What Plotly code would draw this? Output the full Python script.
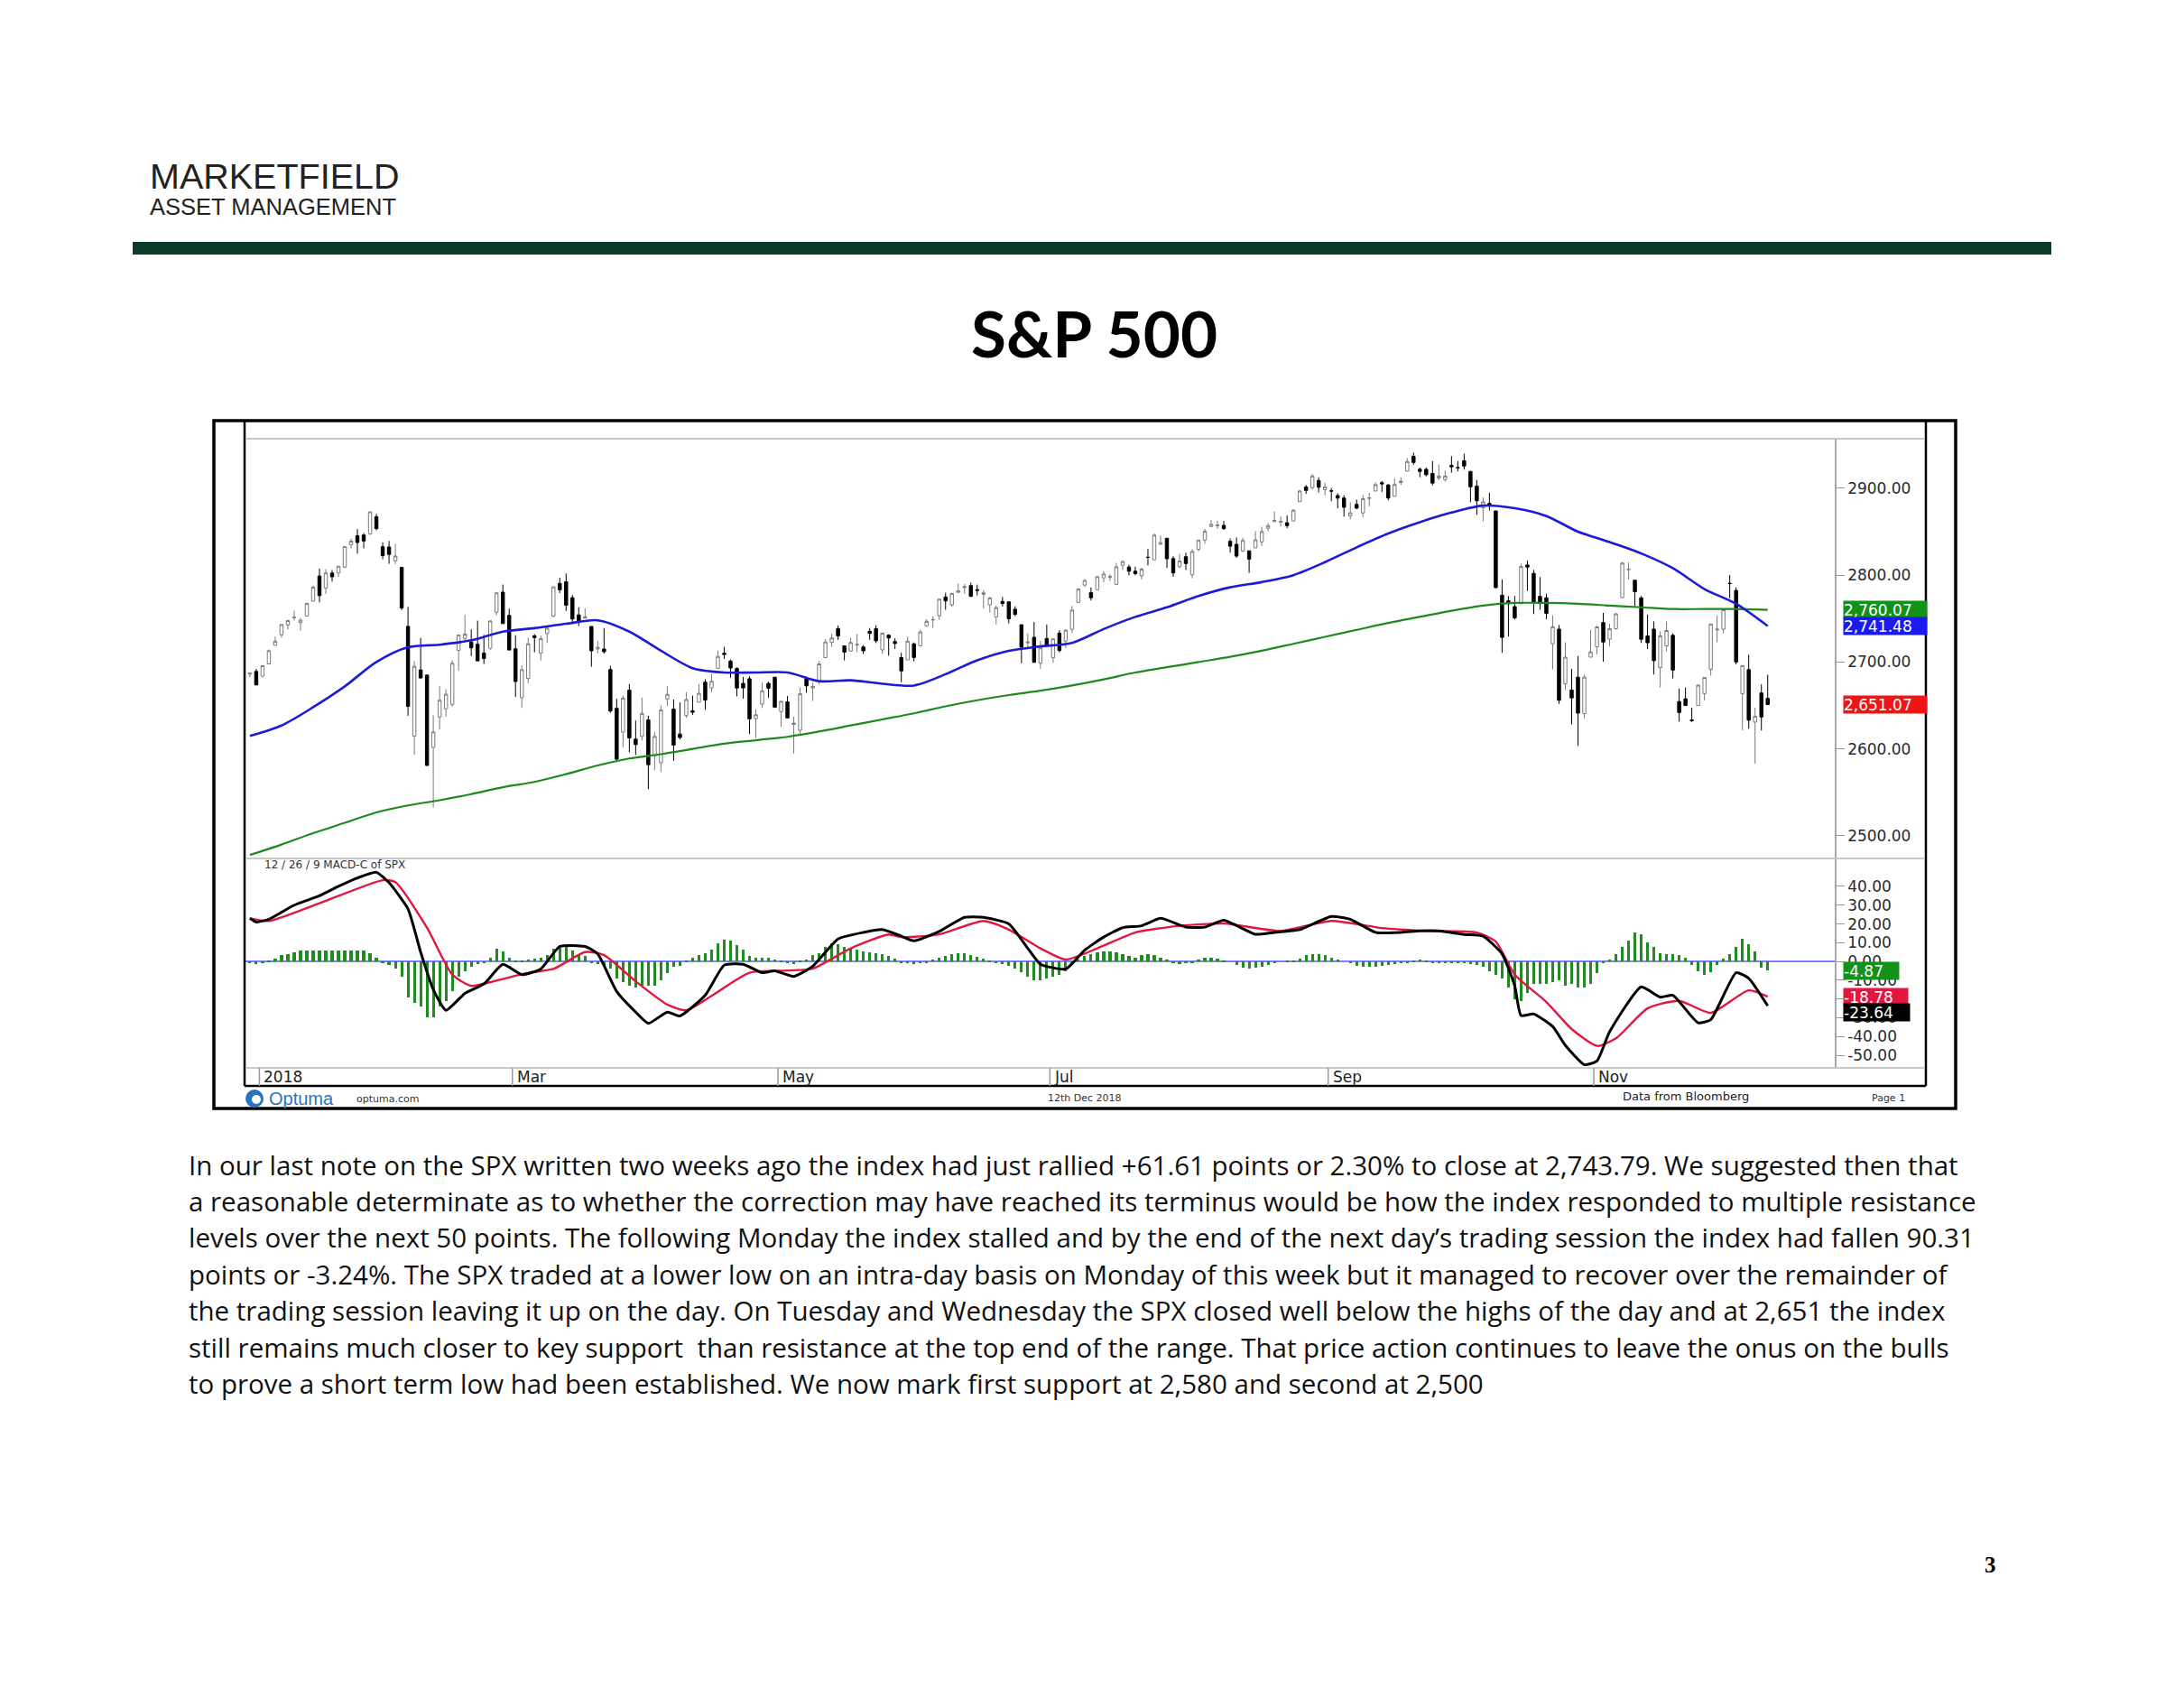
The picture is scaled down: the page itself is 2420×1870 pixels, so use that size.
import plotly.graph_objects as go
import pandas as pd

W, H = 2420, 1870
def px(x): return x / W
def py(y): return 1 - y / H

# ---------------- trading calendar (categories) ----------------
holidays = ["2018-01-01", "2018-01-15", "2018-02-19", "2018-03-30", "2018-05-28",
            "2018-07-04", "2018-09-03", "2018-11-22", "2018-12-05"]
dates = [d.strftime("%Y-%m-%d") for d in pd.bdate_range("2017-12-28", "2018-12-12")
         if d.strftime("%Y-%m-%d") not in holidays]

# ---------------- SPX daily OHLC ----------------
opens = [2686.10, 2689.15,
 2683.73, 2697.85, 2719.31, 2731.33, 2742.67, 2751.15, 2745.55, 2752.97, 2770.18, 2798.96, 2784.99, 2802.40, 2802.60, 2809.16, 2835.05, 2845.42, 2846.24, 2847.48, 2867.23, 2832.74, 2832.41,
 2816.45, 2808.92, 2741.06, 2614.78, 2690.95, 2685.01, 2601.78, 2636.75, 2646.27, 2651.21, 2713.46, 2727.14, 2722.99, 2720.53, 2710.42, 2715.80, 2757.37, 2780.45, 2753.78,
 2715.22, 2658.89, 2681.06, 2730.18, 2710.18, 2732.75, 2752.91, 2790.54, 2792.31, 2774.06, 2754.27, 2750.57, 2740.95, 2715.05, 2714.99, 2691.36, 2646.71, 2619.35, 2667.57, 2611.30, 2614.41,
 2633.45, 2592.17, 2584.04, 2657.36, 2645.82, 2617.18, 2638.41, 2643.89, 2653.83, 2676.90, 2670.10, 2692.74, 2710.11, 2701.16, 2692.56, 2675.40, 2680.80, 2634.92, 2651.65, 2675.47, 2682.51,
 2642.96, 2654.24, 2628.08, 2621.45, 2680.34, 2670.26, 2678.12, 2705.02, 2722.70, 2738.47, 2718.59, 2712.62, 2719.71, 2717.35, 2735.39, 2738.34, 2713.98, 2730.94, 2723.60, 2705.11, 2702.43, 2720.98,
 2718.70, 2741.67, 2748.46, 2753.25, 2774.84, 2765.84, 2780.18, 2785.60, 2787.94, 2783.21, 2777.78, 2765.79, 2752.01, 2769.73, 2769.28, 2760.79, 2742.94, 2722.12, 2728.45, 2698.69, 2727.13,
 2704.95, 2733.27, 2724.19, 2737.68, 2768.51, 2788.56, 2779.82, 2783.14, 2796.93, 2797.36, 2789.34, 2811.35, 2809.37, 2804.55, 2799.17, 2820.68, 2817.73, 2835.49, 2842.35, 2819.00, 2809.73,
 2821.17, 2800.48, 2829.62, 2840.29, 2855.92, 2856.79, 2857.19, 2838.90, 2835.46, 2827.88, 2827.95, 2831.44, 2838.32, 2853.93, 2861.51, 2860.99, 2860.29, 2862.35, 2884.69, 2901.45, 2900.62, 2908.94, 2898.37,
 2896.96, 2891.59, 2888.64, 2868.26, 2881.39, 2871.57, 2888.29, 2896.85, 2906.38, 2903.83, 2890.74, 2906.60, 2919.73, 2936.76, 2921.83, 2921.75, 2916.98, 2911.65, 2910.03,
 2926.29, 2923.80, 2931.69, 2919.35, 2902.54, 2877.53, 2882.51, 2873.90, 2776.87, 2770.54, 2763.83, 2767.05, 2811.67, 2802.00, 2775.66, 2773.94, 2721.03, 2737.87, 2674.88, 2667.86, 2682.65, 2640.68, 2705.60,
 2717.58, 2745.45, 2726.37, 2738.40, 2774.13, 2806.38, 2794.10, 2773.93, 2730.05, 2737.90, 2693.52, 2718.54, 2730.74, 2654.60, 2657.74, 2633.36, 2649.97, 2663.75, 2691.45, 2736.97, 2737.76,
 2790.50, 2782.43, 2663.51, 2691.26, 2630.86, 2664.44, 2658.23]
highs = [2687.66, 2692.12,
 2695.89, 2714.37, 2729.29, 2743.45, 2748.51, 2759.14, 2750.80, 2767.56, 2787.85, 2807.54, 2807.04, 2805.83, 2810.33, 2833.03, 2842.24, 2852.97, 2848.56, 2872.87, 2870.62, 2837.75, 2839.26,
 2835.96, 2808.92, 2763.39, 2701.04, 2727.67, 2685.27, 2638.67, 2672.61, 2668.84, 2702.10, 2731.51, 2754.42, 2737.60, 2747.75, 2731.26, 2747.76, 2780.64, 2789.15, 2761.52,
 2730.89, 2696.25, 2728.09, 2732.08, 2730.60, 2740.45, 2786.57, 2796.98, 2801.90, 2777.11, 2763.03, 2761.85, 2741.09, 2724.22, 2739.14, 2695.68, 2657.67, 2661.36, 2674.78, 2632.65, 2659.07,
 2638.30, 2619.14, 2649.86, 2672.08, 2656.88, 2653.55, 2665.45, 2661.43, 2674.72, 2680.26, 2686.49, 2713.34, 2717.49, 2702.84, 2693.94, 2682.86, 2683.55, 2645.30, 2676.48, 2677.35, 2682.87,
 2655.27, 2660.87, 2637.14, 2670.93, 2683.35, 2676.34, 2701.27, 2726.11, 2732.86, 2742.10, 2718.59, 2727.76, 2731.96, 2719.50, 2739.19, 2742.24, 2733.33, 2731.97, 2727.36, 2710.67, 2729.34, 2722.50,
 2736.93, 2749.16, 2752.61, 2772.39, 2779.90, 2779.39, 2790.21, 2789.80, 2791.47, 2789.06, 2782.81, 2774.99, 2765.05, 2774.86, 2769.28, 2764.17, 2742.94, 2732.91, 2746.09, 2724.34, 2743.26,
 2727.26, 2736.58, 2737.83, 2764.41, 2784.65, 2795.58, 2785.91, 2799.22, 2804.53, 2801.19, 2814.19, 2816.76, 2812.05, 2809.70, 2808.61, 2829.99, 2848.03, 2845.57, 2843.17, 2821.74, 2824.46,
 2825.83, 2829.91, 2840.38, 2853.29, 2863.43, 2862.44, 2862.48, 2842.20, 2843.40, 2843.11, 2827.95, 2850.49, 2855.63, 2859.76, 2873.23, 2867.54, 2868.78, 2876.16, 2898.25, 2903.77, 2916.50, 2912.46, 2906.32,
 2900.18, 2894.21, 2892.05, 2883.81, 2886.93, 2892.52, 2894.65, 2906.76, 2908.30, 2904.65, 2911.17, 2912.36, 2934.80, 2940.91, 2923.79, 2923.95, 2931.15, 2927.22, 2920.53,
 2937.06, 2931.42, 2939.86, 2919.78, 2909.64, 2889.45, 2894.83, 2874.02, 2795.14, 2775.77, 2775.99, 2813.46, 2816.94, 2806.04, 2797.77, 2778.94, 2753.59, 2742.59, 2722.70, 2692.38, 2706.85, 2685.43, 2736.69,
 2741.67, 2756.55, 2744.27, 2756.82, 2815.15, 2814.75, 2794.10, 2775.99, 2754.60, 2746.80, 2735.38, 2746.75, 2733.16, 2669.44, 2670.73, 2647.55, 2674.35, 2682.53, 2744.00, 2753.75, 2760.88,
 2800.18, 2785.93, 2696.15, 2708.54, 2647.51, 2674.35, 2685.44]
lows = [2682.69, 2673.61,
 2682.36, 2697.77, 2719.07, 2727.92, 2737.60, 2747.86, 2736.06, 2752.78, 2769.64, 2768.64, 2778.38, 2792.56, 2798.08, 2808.12, 2830.59, 2824.81, 2830.94, 2846.18, 2851.48, 2818.27, 2813.04,
 2812.70, 2759.97, 2638.17, 2593.07, 2681.33, 2580.56, 2532.69, 2622.45, 2637.08, 2648.87, 2689.82, 2725.11, 2706.76, 2701.29, 2697.77, 2713.74, 2753.78, 2744.22, 2713.54,
 2659.65, 2647.32, 2675.75, 2711.26, 2701.74, 2721.92, 2751.54, 2779.26, 2758.68, 2744.38, 2741.47, 2749.97, 2694.59, 2710.05, 2709.79, 2641.59, 2585.89, 2601.81, 2596.12, 2593.06, 2609.72,
 2553.80, 2575.49, 2573.61, 2649.58, 2586.27, 2610.79, 2635.78, 2639.25, 2653.83, 2645.05, 2665.16, 2692.05, 2703.63, 2681.90, 2660.61, 2657.99, 2617.32, 2612.67, 2647.16, 2659.01, 2648.04,
 2625.41, 2635.78, 2594.62, 2615.32, 2664.70, 2655.20, 2674.14, 2704.54, 2717.45, 2725.47, 2701.91, 2712.17, 2711.36, 2709.18, 2725.70, 2721.88, 2709.54, 2707.38, 2714.99, 2676.81, 2702.43, 2700.68,
 2718.70, 2740.54, 2739.51, 2748.46, 2760.16, 2763.59, 2780.17, 2778.78, 2774.65, 2776.52, 2761.73, 2757.12, 2743.19, 2763.91, 2744.39, 2752.68, 2698.67, 2715.60, 2699.38, 2691.99, 2718.03,
 2698.95, 2711.16, 2716.02, 2733.52, 2768.51, 2786.24, 2770.77, 2783.14, 2791.69, 2793.39, 2789.24, 2805.89, 2799.77, 2800.01, 2795.14, 2811.12, 2817.73, 2835.26, 2808.34, 2798.11, 2808.06,
 2805.85, 2796.34, 2827.37, 2835.98, 2855.92, 2853.09, 2851.98, 2825.81, 2819.88, 2826.58, 2802.49, 2831.44, 2833.73, 2850.62, 2861.32, 2856.05, 2854.03, 2862.35, 2884.69, 2893.50, 2898.40, 2895.22, 2891.73,
 2885.13, 2876.92, 2867.29, 2864.12, 2875.94, 2866.78, 2879.20, 2896.39, 2895.77, 2886.16, 2890.43, 2903.82, 2919.73, 2927.11, 2912.63, 2913.70, 2903.28, 2909.27, 2907.50,
 2917.91, 2919.37, 2921.36, 2883.92, 2869.29, 2862.08, 2874.27, 2784.86, 2710.51, 2729.44, 2749.03, 2766.91, 2781.81, 2755.18, 2760.27, 2749.22, 2691.43, 2651.89, 2667.84, 2628.16, 2603.54, 2635.34, 2705.60,
 2708.85, 2700.44, 2717.94, 2737.08, 2774.13, 2794.99, 2764.24, 2722.00, 2714.98, 2685.75, 2670.75, 2712.16, 2681.09, 2631.52, 2649.82, 2631.09, 2649.97, 2655.89, 2684.38, 2722.94, 2732.76,
 2773.38, 2697.18, 2621.53, 2623.14, 2583.23, 2621.30, 2650.26]
closes = [2687.54, 2673.61,
 2695.81, 2713.06, 2723.99, 2743.15, 2747.71, 2751.29, 2748.23, 2767.56, 2786.24, 2776.42, 2802.56, 2798.03, 2810.30, 2832.97, 2839.13, 2837.54, 2839.25, 2872.87, 2853.53, 2822.43, 2823.81,
 2821.98, 2762.13, 2648.94, 2695.14, 2681.66, 2581.00, 2619.55, 2656.00, 2662.94, 2698.63, 2731.20, 2732.22, 2716.26, 2701.33, 2703.96, 2747.30, 2779.60, 2744.28, 2713.83,
 2677.67, 2691.25, 2720.94, 2728.12, 2726.80, 2738.97, 2786.57, 2783.02, 2765.31, 2749.48, 2747.33, 2752.01, 2712.92, 2716.94, 2711.93, 2643.69, 2588.26, 2658.55, 2612.62, 2605.00, 2640.87,
 2581.88, 2614.45, 2644.69, 2662.84, 2604.47, 2613.16, 2656.87, 2642.19, 2663.99, 2656.30, 2677.84, 2706.39, 2708.64, 2693.13, 2670.14, 2670.29, 2634.56, 2639.40, 2666.94, 2669.91, 2648.05,
 2654.80, 2635.67, 2629.73, 2663.42, 2672.63, 2671.92, 2697.79, 2723.07, 2727.72, 2730.13, 2711.45, 2722.46, 2720.13, 2712.97, 2733.01, 2724.44, 2733.29, 2727.76, 2721.33, 2689.86, 2724.01, 2705.27,
 2734.62, 2746.87, 2748.80, 2772.35, 2770.37, 2779.03, 2782.00, 2786.85, 2775.63, 2782.49, 2779.66, 2773.75, 2762.59, 2767.32, 2749.76, 2754.88, 2717.07, 2723.06, 2699.63, 2716.31, 2718.37,
 2726.71, 2713.22, 2736.61, 2759.82, 2784.17, 2793.84, 2774.02, 2798.29, 2801.31, 2798.43, 2809.55, 2815.62, 2804.49, 2801.83, 2806.98, 2820.40, 2846.07, 2837.44, 2818.82, 2802.60, 2816.29,
 2813.36, 2827.22, 2840.35, 2850.40, 2858.45, 2857.70, 2853.58, 2833.28, 2821.93, 2839.96, 2818.37, 2840.69, 2850.13, 2857.05, 2862.96, 2861.82, 2856.98, 2874.69, 2896.74, 2897.52, 2914.04, 2901.13, 2901.52,
 2896.72, 2888.60, 2878.05, 2871.68, 2877.13, 2887.89, 2888.92, 2904.18, 2904.98, 2888.80, 2904.31, 2907.95, 2930.75, 2929.67, 2919.37, 2915.56, 2905.97, 2914.00, 2913.98,
 2924.59, 2923.43, 2925.51, 2901.61, 2885.57, 2884.43, 2880.34, 2785.68, 2728.37, 2767.13, 2750.79, 2809.92, 2809.21, 2768.78, 2767.78, 2755.88, 2740.69, 2656.10, 2705.57, 2658.69, 2641.25, 2682.63, 2711.74,
 2740.37, 2723.06, 2738.31, 2755.45, 2813.89, 2806.83, 2781.01, 2726.22, 2722.18, 2701.58, 2730.20, 2736.27, 2690.73, 2641.89, 2649.93, 2632.56, 2673.45, 2682.17, 2743.79, 2737.76, 2760.17,
 2790.37, 2700.06, 2695.95, 2633.08, 2637.72, 2636.78, 2651.07]

ma_idx = [0, 5, 10, 15, 20, 25, 30, 35, 40, 45, 50, 55, 60, 65, 70, 75, 80, 85, 90, 95, 100,
          105, 110, 115, 120, 125, 130, 135, 140, 145, 150, 155, 160, 165, 170, 175, 180, 185,
          190, 195, 200, 205, 210, 215, 220, 225, 230, 235, 240]
ma50 = [2615, 2627, 2648, 2672, 2700, 2717, 2720, 2725, 2735, 2739, 2744, 2748, 2735, 2713, 2693,
        2688, 2688, 2688, 2678, 2679, 2675, 2673, 2686, 2702, 2713, 2718, 2722, 2738, 2752, 2763,
        2776, 2786, 2792, 2800, 2815, 2832, 2848, 2861, 2872, 2880, 2877, 2868, 2850, 2838, 2825,
        2808, 2784, 2767, 2741.48]
ma200 = [2478, 2490, 2503, 2515, 2527, 2535, 2541, 2548, 2556, 2562, 2571, 2581, 2589, 2594, 2600,
         2606, 2610, 2614, 2620, 2627, 2634, 2641, 2649, 2656, 2662, 2667, 2673, 2680, 2688, 2694,
         2700, 2706, 2713, 2721, 2729, 2737, 2745, 2752, 2759, 2765, 2768, 2768, 2767, 2765, 2763,
         2761, 2761, 2761, 2760.07]

# ---------------- MACD (12/26/9) ----------------
macd_idx = [0, 1, 3, 7, 11, 14, 17, 20, 22, 25, 27, 29, 31, 34, 37, 40, 43, 46, 49, 53, 55, 58, 61,
            63, 66, 68, 72, 75, 78, 81, 83, 86, 89, 93, 97, 100, 103, 105, 109, 113, 116, 120, 123,
            125, 129, 132, 135, 138, 141, 144, 148, 151, 154, 159, 162, 166, 171, 174, 178, 182,
            185, 188, 192, 195, 198, 200, 201, 203, 206, 208, 211, 213, 215, 220, 223, 225, 229,
            231, 235, 237, 240]
macd_val = [23, 21, 22.5, 30, 35, 40, 44.5, 47.5, 42, 28, 5, -15, -26, -17, -12, -1.5, -7, -4, 8, 8,
            4, -16, -27, -33, -27, -29, -18, -2, -1.5, -6, -5, -8, -2.5, 12, 15.5, 17, 13.5, 11, 16,
            23.5, 23.5, 20, 7, -1.5, -4, 6, 13, 18, 19, 23, 18.3, 18.3, 22, 14.5, 15.5, 17, 24,
            22.5, 15.5, 15.5, 16.3, 16.3, 14.4, 13.5, 4, -13, -28.8, -28, -34.6, -44.7, -55, -53,
            -37.5, -13.5, -19, -18, -32.7, -31, -6, -9, -23.64]
sig_idx = [0, 3, 11, 21, 23, 28, 32, 35, 38, 44, 48, 53, 56, 61, 66, 69, 73, 79, 85, 89, 95, 101,
           103, 109, 116, 120, 125, 129, 134, 140, 147, 154, 163, 171, 179, 186, 194, 197, 200, 205,
           209, 213, 216, 221, 226, 231, 237, 240]
sig_val = [23, 21.6, 31, 43.3, 42.3, 18, -7, -13, -11, -6, -4, 5, 3.4, -10.6, -23, -26, -18.3, -6,
           -4.8, -3.8, 7, 14.4, 13, 14.4, 21.6, 17, 7, 1, 7, 15.4, 19, 20.2, 16.3, 21.6, 17.8, 16.3,
           15.4, 10.6, -7, -21.6, -36, -45, -41, -25, -21, -27.4, -15.4, -18.78]
hist_val = [-0.8, -1.3, -1.0, 0.5,
            1.6, 3.2, 4.0, 4.8, 5.6, 5.6, 5.6, 5.8, 5.8, 5.8, 5.8, 5.8, 6.0, 6.0, 5.6, 4.5, 2.0,
            -1, -2, -4, -8, -19, -22, -24, -30, -30, -24, -21, -16, -8, -5, -3, -1.5, -0.5,
            2, 7, 5.5, 2, 0.5,
            0.3, 1, 1.5, 2, 3.5, 7, 8.5, 8, 6, 4, 3,
            -0.5, -1.5, -2.5, -4, -9, -11, -13, -14, -13.5, -13, -13, -10, -6, -3, -2.5,
            0.5, 2, 3.5, 4.5, 6.5, 9.5, 11.5, 11, 8.5, 6.5, 3, 2, 2, 2, 1, 0.5,
            -0.5, -1.5,
            0.3, 1, 3.5, 4.5, 8, 9.5, 9, 8, 7, 6.5, 5.5, 5, 4.5, 4, 3, 1.5,
            -0.5, -1, -1.5, -1, -0.5,
            1, 2, 3, 4, 4.5, 4.5, 3.5, 2.5, 1.5, 0.5,
            -0.5, -1.5, -2.5, -4, -5.5, -8, -10, -10, -9, -8, -7, -5, -2,
            1, 3, 4, 5, 5.5, 5.5, 5, 4, 3, 2, 3.5, 4, 3.5, 2, 1,
            -1, -1.5, -1, -0.5,
            1, 2, 2, 1.5, 0.3,
            0, -2, -3.5, -4, -3.5, -3, -2, -1,
            0, 0.3, 0.5, 1.5, 3.5, 4, 4, 3.5, 2, 1,
            0, -1, -2.5, -3, -3, -3, -2.5, -2, -1.5, -1, -0.5, 0.5, 1, 0.5,
            -0.5, -1, -1, -1, -1, -1, -1.5, -2,
            -3, -5, -7, -9, -14, -20, -21, -17, -12, -12, -12, -11, -10, -13, -12, -14, -14, -12, -6,
            -1, 1, 4, 8, 11, 15.5, 14.5, 10, 8, 4.5, 4, 4, 3.5, 2,
            -2, -5, -7, -5.5, -2,
            1.5, 4, 8, 12, 9, 5.5,
            -3.5, -4.87]

# ---------------- axis labels ----------------
month_starts = ["2018-01-02", "2018-03-01", "2018-05-01", "2018-07-02", "2018-09-04", "2018-11-01"]
month_labels = ["2018", "Mar", "May", "Jul", "Sep", "Nov"]
price_ticks = [2500, 2600, 2700, 2800, 2900]
macd_ticks = [-50, -40, -30, -20, -10, 0, 10, 20, 30, 40]

paragraph = [
    "In our last note on the SPX written two weeks ago the index had just rallied +61.61 points or 2.30% to close at 2,743.79. We suggested then that",
    "a reasonable determinate as to whether the correction may have reached its terminus would be how the index responded to multiple resistance",
    "levels over the next 50 points. The following Monday the index stalled and by the end of the next day\u2019s trading session the index had fallen 90.31",
    "points or -3.24%. The SPX traded at a lower low on an intra-day basis on Monday of this week but it managed to recover over the remainder of",
    "the trading session leaving it up on the day. On Tuesday and Wednesday the SPX closed well below the highs of the day and at 2,651 the index",
    "still remains much closer to key support  than resistance at the top end of the range. That price action continues to leave the onus on the bulls",
    "to prove a short term low had been established. We now mark first support at 2,580 and second at 2,500",
]

CH = "DejaVu Sans"

fig = go.Figure()

fig.add_trace(go.Candlestick(
    x=dates, open=opens, high=highs, low=lows, close=closes,
    increasing=dict(line=dict(color="#7a7a7a", width=1), fillcolor="#ffffff"),
    decreasing=dict(line=dict(color="#000000", width=1), fillcolor="#000000"),
    whiskerwidth=0, xaxis="x", yaxis="y", showlegend=False, hoverinfo="skip"))
fig.add_trace(go.Scatter(x=[dates[i] for i in ma_idx], y=ma200, mode="lines",
                         line=dict(color="#1e8a1e", width=2.2, shape="spline", smoothing=0.8),
                         xaxis="x", yaxis="y", showlegend=False, hoverinfo="skip"))
fig.add_trace(go.Scatter(x=[dates[i] for i in ma_idx], y=ma50, mode="lines",
                         line=dict(color="#1a1ad8", width=2.6, shape="spline", smoothing=0.8),
                         xaxis="x", yaxis="y", showlegend=False, hoverinfo="skip"))

fig.add_trace(go.Bar(x=dates, y=hist_val, marker=dict(color="#1f8c1f", line=dict(width=0)),
                     width=0.45, xaxis="x2", yaxis="y2", showlegend=False, hoverinfo="skip"))
fig.add_trace(go.Scatter(x=[dates[i] for i in sig_idx], y=sig_val, mode="lines",
                         line=dict(color="#e3163f", width=2.4, shape="spline", smoothing=0.6),
                         xaxis="x2", yaxis="y2", showlegend=False, hoverinfo="skip"))
fig.add_trace(go.Scatter(x=[dates[i] for i in macd_idx], y=macd_val, mode="lines",
                         line=dict(color="#000000", width=3, shape="spline", smoothing=0.5),
                         xaxis="x2", yaxis="y2", showlegend=False, hoverinfo="skip"))

xdom = [px(272), px(2033)]
xr = [-0.7, 250.6]
fig.update_layout(
    width=W, height=H, margin=dict(l=0, r=0, t=0, b=0), autosize=False,
    paper_bgcolor="white", plot_bgcolor="white", bargap=0,
    xaxis=dict(domain=xdom, range=xr, type="category", showticklabels=False, showgrid=False,
               zeroline=False, showline=False, ticks="", rangeslider=dict(visible=False),
               anchor="y", categoryorder="array", categoryarray=dates),
    xaxis2=dict(domain=xdom, range=xr, type="category", matches="x", showticklabels=False,
                showgrid=False, zeroline=False, showline=False, ticks="", anchor="y2",
                categoryorder="array", categoryarray=dates),
    yaxis=dict(domain=[py(951), py(486)], range=[2474, 2957], side="right", anchor="x",
               tickvals=price_ticks, ticktext=[f"{v:.2f}" for v in price_ticks],
               ticks="outside", ticklen=9,
               tickcolor="#999999", tickwidth=1, showline=True, linecolor="#a8a8a8",
               linewidth=1.5, showgrid=False, zeroline=False,
               tickfont=dict(family=CH, size=17, color="#2a2a2a")),
    yaxis2=dict(domain=[py(1183), py(951)], range=[-56.7, 54.9], side="right", anchor="x2",
                tickvals=macd_ticks, ticktext=[f"{v:.2f}" for v in macd_ticks],
                ticks="outside", ticklen=9,
                tickcolor="#999999", tickwidth=1, showline=True, linecolor="#a8a8a8",
                linewidth=1.5, showgrid=False, zeroline=True, zerolinecolor="#8080ff",
                zerolinewidth=1.5, tickfont=dict(family=CH, size=17, color="#2a2a2a")),
)

shapes = []
# header bar
shapes.append(dict(type="rect", xref="paper", yref="paper", x0=px(147), x1=px(2273),
                   y0=py(282), y1=py(268), fillcolor="#0c3b27", line=dict(width=0), layer="above"))
# chart frame
shapes.append(dict(type="rect", xref="paper", yref="paper", x0=px(237), x1=px(2167),
                   y0=py(1228), y1=py(466), line=dict(color="black", width=3.5)))
for (x0, y0, x1, y1) in [(271, 466, 271, 1203), (2134, 466, 2134, 1203), (271, 1203, 2134, 1203)]:
    shapes.append(dict(type="line", xref="paper", yref="paper", x0=px(x0), x1=px(x1),
                       y0=py(y0), y1=py(y1), line=dict(color="black", width=2.5)))
for yy in [486, 951, 1183]:
    shapes.append(dict(type="line", xref="paper", yref="paper", x0=px(272), x1=px(2133),
                       y0=py(yy), y1=py(yy), line=dict(color="#c8c8c8", width=2)))
# month separators in the date strip
for d in month_starts:
    i = dates.index(d)
    shapes.append(dict(type="line", xref="x2", yref="paper", x0=i - 0.5, x1=i - 0.5,
                       y0=py(1203), y1=py(1183), line=dict(color="#9a9a9a", width=1.5)))
# optuma logo icon
shapes.append(dict(type="circle", xref="paper", yref="paper", x0=px(272), x1=px(292),
                   y0=py(1227), y1=py(1207), fillcolor="#2b73c0", line=dict(width=0)))
shapes.append(dict(type="circle", xref="paper", yref="paper", x0=px(279), x1=px(289),
                   y0=py(1223), y1=py(1213), fillcolor="#ffffff", line=dict(width=0)))
fig.update_layout(shapes=shapes)

ann = []
def text(x, y, s, size, family=CH, color="#222", xanchor="left", yanchor="middle", **kw):
    ann.append(dict(x=px(x), y=py(y), xref="paper", yref="paper", text=s, showarrow=False,
                    xanchor=xanchor, yanchor=yanchor,
                    font=dict(family=family, size=size, color=color), **kw))

# header & title
text(164, 195, "MARKETFIELD", 39.5, family="Liberation Sans", color="#222")
text(164, 229, "ASSET MANAGEMENT", 25.5, family="Liberation Sans", color="#222")
text(1212, 369, "<b>S&amp;P 500</b>", 71, family="Lato", color="#000", xanchor="center")

# month labels
for d, lab in zip(month_starts, month_labels):
    i = dates.index(d)
    ann.append(dict(x=i - 0.5, y=py(1193), xref="x2", yref="paper", text=lab, showarrow=False,
                    xanchor="left", yanchor="middle", xshift=3,
                    font=dict(family=CH, size=17, color="#222")))

# MACD caption
text(291, 958, "12 / 26 / 9 MACD-C of SPX", 12, color="#333")

# value badges
def badge(yref, yv, s, bg, w, ysh=0):
    ann.append(dict(x=px(2042), y=yv, xref="paper", yref=yref, text=s, showarrow=False,
                    xanchor="left", yanchor="middle", bgcolor=bg, borderpad=0, width=w,
                    height=19, align="left", yshift=ysh,
                    font=dict(family=CH, size=17, color="white")))
badge("y", ma200[-1], f"{ma200[-1]:,.2f}", "#13921a", 92)
badge("y", ma50[-1], f"{ma50[-1]:,.2f}", "#1b1bf0", 92)
badge("y", closes[-1], f"{closes[-1]:,.2f}", "#f01414", 92)
badge("y2", hist_val[-1], f"{hist_val[-1]:.2f}", "#13921a", 61)
badge("y2", sig_val[-1], f"{sig_val[-1]:.2f}", "#e3163f", 71)
badge("y2", macd_val[-1], f"{macd_val[-1]:.2f}", "#000000", 73, ysh=-7)

# footer inside the chart frame
text(296, 1217, "Optuma", 20, family="Liberation Sans", color="#2b73c0")
text(393, 1217, "optuma.com", 11, color="#333")
text(1202, 1216, "12th Dec 2018", 11, color="#333", xanchor="center")
text(1796, 1214, "Data from Bloomberg", 13, color="#222")
text(2092, 1216, "Page 1", 11, color="#333", xanchor="center")

# paragraph
for k, line in enumerate(paragraph):
    text(207, 1290 + 40.4 * k, line, 29.5, family="Open Sans", color="#111")

# page number
text(2205, 1733, "<b>3</b>", 25, family="Liberation Serif", color="#000", xanchor="center")

fig.update_layout(annotations=ann)
fig.write_html("out.html")
